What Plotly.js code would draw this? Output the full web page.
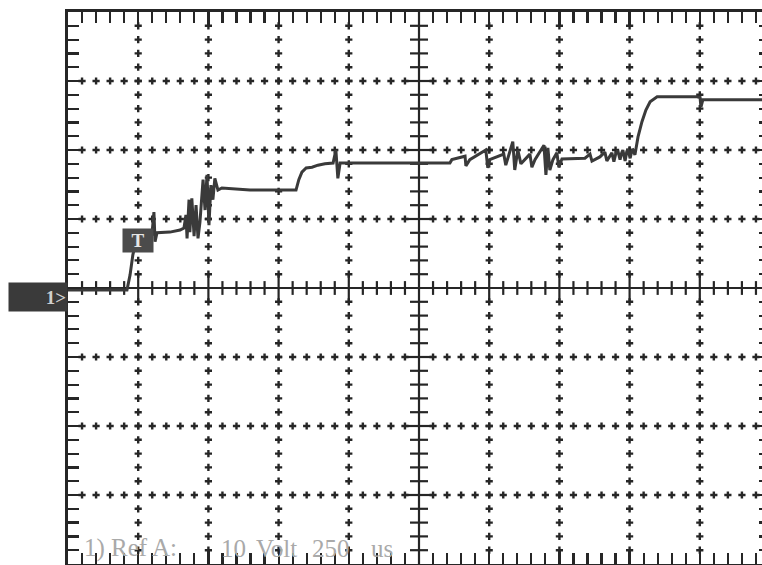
<!DOCTYPE html>
<html>
<head>
<meta charset="utf-8">
<script src="https://cdn.plot.ly/plotly-3.0.1.min.js"></script>
<style>
  html, body { margin: 0; padding: 0; background: #fff; overflow: hidden; }
  #scope { width: 780px; height: 565px; }
</style>
</head>
<body>
<div id="scope"></div>
<script>
// Channel 1, Ref A capture: 10 V/div, 250 us/div
const timeUs = [
  0, 210, 221, 231, 246, 299, 306, 310, 317, 363, 399, 413,
  420, 424, 431, 434, 441, 449, 456, 463, 470,
  481, 488, 495, 502, 509, 516, 523, 534, 548,
  648, 812, 822, 833, 848, 869, 890, 915, 944, 954, 961, 969,
  1360, 1367, 1414, 1417, 1431, 1488, 1495, 1502, 1552, 1559, 1584, 1591, 1602, 1613,
  1645, 1652, 1663, 1695, 1702, 1709, 1716, 1727, 1741, 1748, 1759,
  1805, 1841, 1859, 1866, 1894, 1912, 1919, 1937, 1944, 1951, 1958, 1966, 1972, 1976, 1984,
  1990, 1994, 2002, 2008, 2012, 2019,
  2030, 2044, 2058, 2073, 2098, 2240, 2251, 2254, 2261, 2500
];
const volts = [
  -0.3, -0.3, 1.9, 4.8, 7.5, 7.8, 11.0, 6.7, 8.0, 8.1, 8.4, 8.7,
  10.6, 7.2, 12.8, 8.1, 13.0, 7.5, 12.0, 7.2, 9.6,
  15.7, 11.3, 16.4, 9.1, 14.9, 12.8, 15.9, 14.2, 14.5,
  14.2, 14.2, 15.7, 16.8, 17.4, 17.5, 17.8, 18.0, 18.1, 20.0, 15.9, 18.1,
  18.1, 18.6, 19.1, 17.7, 18.6, 20.0, 17.4, 18.6, 19.4, 17.8, 21.2, 17.1, 20.0, 18.0,
  19.4, 17.5, 18.6, 20.7, 16.4, 20.3, 17.1, 18.6, 19.6, 17.5, 18.7,
  18.8, 18.8, 19.4, 18.4, 19.0, 19.7, 18.4, 19.6, 18.3, 19.5, 19.9, 18.6, 19.6, 20.0, 18.4,
  19.8, 20.1, 18.8, 19.9, 20.0, 19.3,
  21.9, 24.1, 25.8, 27.0, 27.7, 27.7, 27.6, 26.2, 27.3, 27.3
];

// Trigger point and ground reference
const triggerTime = 249, triggerVolts = 6.9;
const groundMarkVolts = -1.3;
const channelLabel = "1>";
// Readout line under the graticule
const readoutWords = ["1) Ref A:", "10", "Volt", "250", "us"];
const readoutPixelX = [82, 219, 254, 310, 369];

// Screen geometry: 10 x 8 divisions, 5 subdivisions each
const T_DIV = 250, V_DIV = 10, SUB = 5;
const T_MAX = 10 * T_DIV, V_MAX = 4 * V_DIV;
const T_CENTER = T_MAX / 2;
const tSub = T_DIV / SUB, vSub = V_DIV / SUB;

const ink = "#262626";
const FIG_W = 780, M_L = 68, M_R = 10;

// dotted graticule
const dotX = [], dotY = [];
for (let k = 1; k < 10; k++) {
  if (k === 5) continue;
  for (let j = 1; j < 8 * SUB; j++) {
    const v = -V_MAX + j * vSub;
    if (Math.abs(v) < 1e-9) continue;
    dotX.push(k * T_DIV); dotY.push(v);
  }
}
for (let m = -3; m <= 3; m++) {
  if (m === 0) continue;
  for (let i = 1; i < 10 * SUB; i++) {
    const t = i * tSub;
    if (t === T_CENTER) continue;
    dotX.push(t); dotY.push(m * V_DIV);
  }
}

// centre cross with its subdivision ticks
const tickX = [], tickY = [];
for (let i = 1; i < 10 * SUB; i++) {
  const t = i * tSub;
  if (t === T_CENTER) continue;
  const h = (i % SUB === 0) ? 1.9 : 1.0;
  tickX.push(t, t, null); tickY.push(-h, h, null);
}
for (let j = 1 - 4 * SUB; j < 4 * SUB; j++) {
  if (j === 0) continue;
  const v = j * vSub;
  const w = (j % SUB === 0) ? 50 : 32;
  tickX.push(T_CENTER - w, T_CENTER + w, null); tickY.push(v, v, null);
}
tickX.push(0, T_MAX, null, T_CENTER, T_CENTER, null);
tickY.push(0, 0, null, -V_MAX, V_MAX, null);

const traces = [
  { type: "scatter", mode: "markers", x: dotX, y: dotY, hoverinfo: "skip",
    marker: { symbol: "cross", size: 6, color: ink, line: { width: 0 } } },
  { type: "scatter", mode: "lines", x: tickX, y: tickY, hoverinfo: "skip",
    line: { color: ink, width: 2.2 } },
  { type: "scatter", mode: "lines", x: timeUs, y: volts, hoverinfo: "skip",
    line: { color: "#3a3a3a", width: 3 } }
];

function frameAxis(range, dtick, minorDtick) {
  return {
    range: range, autorange: false, fixedrange: true,
    showgrid: false, zeroline: false, showticklabels: false,
    showline: true, linewidth: 3, linecolor: ink, mirror: "allticks",
    ticks: "inside", ticklen: 14, tickwidth: 2.2, tickcolor: ink,
    tick0: 0, dtick: dtick,
    minor: { dtick: minorDtick, tick0: 0, ticks: "inside", ticklen: 11,
             tickwidth: 2.2, tickcolor: ink, showgrid: false }
  };
}

const plotW = FIG_W - M_L - M_R;
const readoutAnnotations = readoutWords.map((w, i) => ({
  x: (readoutPixelX[i] - M_L) / plotW, y: -37.7, xref: "paper", yref: "y",
  xanchor: "left", yanchor: "middle", showarrow: false, text: w,
  font: { family: "Liberation Serif", size: 25, color: "#a9a9a9" }
}));

const layout = {
  width: FIG_W, height: 565,
  margin: { l: M_L, r: M_R, t: 12, b: 1 },
  paper_bgcolor: "#ffffff", plot_bgcolor: "#ffffff",
  showlegend: false,
  xaxis: frameAxis([0, T_MAX], T_DIV, tSub),
  yaxis: frameAxis([-V_MAX, V_MAX], V_DIV, vSub),
  annotations: [
    { x: triggerTime, y: triggerVolts, xref: "x", yref: "y", showarrow: false,
      text: "<b>T</b>", width: 28, height: 21, borderpad: 1,
      bgcolor: "#4b4b4b", font: { family: "Liberation Serif", size: 19, color: "#e6e6e6" } },
    { x: 0, y: groundMarkVolts, xref: "paper", yref: "y", xanchor: "right", yanchor: "middle",
      showarrow: false, text: "<b>" + channelLabel + "</b>", align: "right",
      width: 56, height: 26, borderpad: 1, bgcolor: "#3a3a3a",
      font: { family: "Liberation Serif", size: 19, color: "#cfcfcf" } }
  ].concat(readoutAnnotations)
};

Plotly.newPlot("scope", traces, layout, { staticPlot: true, displayModeBar: false });
</script>
</body>
</html>
